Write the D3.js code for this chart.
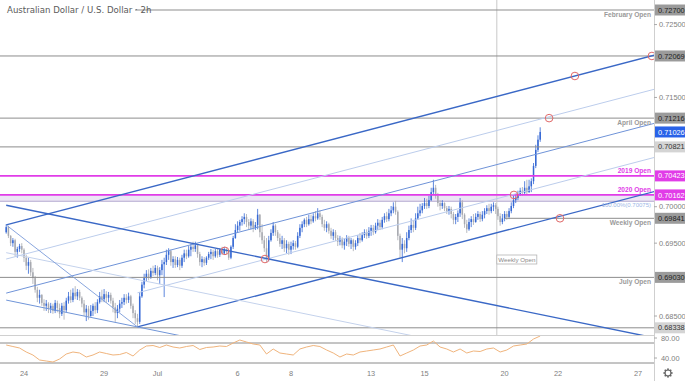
<!DOCTYPE html>
<html>
<head>
<meta charset="utf-8">
<script src="https://cdn.jsdelivr.net/npm/d3@7"></script>
<style>
  body { margin: 0; background: #fff; }
  svg { display: block; font-family: "Liberation Sans", Arial, sans-serif; }
</style>
</head>
<body>
<svg id="chart" width="685" height="381"></svg>
<script>
// ---- data (2h bars, AUD/USD, 23 Jun - 21 Jul) ----
const title = "Australian Dollar / U.S. Dollar · 2h"
const firstOpen = 0.6965

const highs = [
  .6976,.6974,.6961,.6957,.6956,.6945,.6949,.6950,
  .6943,.6934,.6930,.6927,.6916,.6905,.6890,.6886,.6880,.6873,.6872,.6869,
  .6868,.6867,.6872,.6871,.6867,.6868,.6869,.6875,.6883,.6886,.6888,.6891,
  .6887,.6886,.6877,.6872,.6865,.6864,.6865,.6867,.6869,.6873,.6883,.6886,
  .6887,.6884,.6883,.6882,.6875,.6868,.6865,.6872,.6875,.6880,.6880,.6882,
  .6879,.6867,.6858,.6853,.6883,.6897,.6908,.6913,.6914,.6916,.6919,.6920,
  .6919,.6917,.6927,.6930,.6941,.6943,.6941,.6932,.6932,.6931,.6930,.6934,
  .6941,.6941,.6946,.6949,.6952,.6952,.6949,.6938,.6932,.6931,.6932,.6938,
  .6942,.6941,.6942,.6943,.6943,.6945,.6945,.6943,.6941,.6947,.6960,.6976,
  .6980,.6982,.6987,.6991,.6990,.6983,.6984,.6983,.6979,.6997,.6990,.6976,
  .6960,.6957,.6960,.6969,.6979,.6976,.6968,.6963,.6960,.6957,.6954,.6952,
  .6952,.6954,.6953,.6965,.6976,.6980,.6984,.6986,.6989,.6989,.6991,.6994,
  .6998,.6995,.6989,.6982,.6980,.6978,.6971,.6969,.6968,.6961,.6960,.6958,
  .6956,.6961,.6960,.6957,.6956,.6954,.6961,.6964,.6965,.6969,.6969,.6972,
  .6975,.6975,.6978,.6983,.6982,.6986,.6991,.6993,.6997,.7001,.7006,.7008,
  .6995,.6963,.6957,.6954,.6965,.6974,.6984,.6982,.6991,.7000,.7004,.7005,
  .7012,.7011,.7015,.7026,.7037,.7030,.7019,.7009,.7009,.7006,.7001,.7001,
  .7000,.6993,.6990,.6995,.7012,.7009,.6991,.6982,.6984,.6987,.6990,.6991,
  .6994,.6993,.6994,.6998,.7002,.7004,.7004,.7006,.7005,.7000,.6991,.6990,
  .6994,.6994,.6998,.7006,.7015,.7017,.7022,.7026,.7027,.7035,.7037,.7037,
  .7039,.7060,.7085,.7098,.7109
]
const lows = [
  .6963,.6957,.6946,.6945,.6932,.6930,.6938,.6936,
  .6924,.6913,.6908,.6905,.6894,.6882,.6869,.6867,.6864,.6857,.6857,.6854,
  .6854,.6853,.6854,.6855,.6847,.6850,.6845,.6855,.6867,.6868,.6869,.6873,
  .6872,.6871,.6862,.6850,.6843,.6845,.6849,.6850,.6853,.6854,.6867,.6869,
  .6869,.6868,.6869,.6867,.6855,.6842,.6847,.6855,.6861,.6865,.6867,.6868,
  .6860,.6847,.6839,.6835,.6839,.6875,.6888,.6898,.6899,.6901,.6905,.6906,
  .6899,.6894,.6906,.6876,.6920,.6927,.6919,.6916,.6916,.6917,.6913,.6916,
  .6924,.6928,.6930,.6932,.6938,.6938,.6930,.6919,.6917,.6919,.6920,.6927,
  .6928,.6927,.6930,.6930,.6931,.6934,.6934,.6935,.6927,.6928,.6942,.6956,
  .6964,.6967,.6974,.6976,.6972,.6969,.6969,.6965,.6968,.6969,.6958,.6949,
  .6938,.6924,.6925,.6952,.6960,.6960,.6953,.6945,.6942,.6938,.6936,.6934,
  .6935,.6941,.6941,.6943,.6957,.6965,.6972,.6972,.6974,.6976,.6978,.6980,
  .6982,.6982,.6972,.6967,.6965,.6963,.6956,.6954,.6953,.6946,.6947,.6943,
  .6941,.6946,.6945,.6942,.6939,.6941,.6946,.6950,.6952,.6957,.6956,.6957,
  .6960,.6961,.6963,.6968,.6968,.6969,.6978,.6979,.6980,.6987,.6991,.6989,
  .6954,.6930,.6924,.6936,.6938,.6954,.6964,.6965,.6968,.6982,.6987,.6991,
  .6997,.6997,.6998,.7008,.7016,.7011,.7000,.6995,.6997,.6994,.6990,.6989,
  .6984,.6976,.6976,.6979,.6986,.6983,.6971,.6964,.6967,.6972,.6975,.6978,
  .6982,.6979,.6980,.6984,.6990,.6989,.6991,.6994,.6990,.6982,.6974,.6976,
  .6980,.6982,.6983,.6991,.6998,.7005,.7009,.7015,.7015,.7017,.7016,.7019,
  .7020,.7031,.7053,.7075,.7089
]
const closes = [
  .6972,.6960,.6950,.6954,.6938,.6942,.6946,.6941,
  .6930,.6919,.6924,.6910,.6902,.6886,.6875,.6879,.6868,.6864,.6867,.6860,
  .6864,.6857,.6868,.6861,.6853,.6864,.6858,.6871,.6877,.6872,.6882,.6877,
  .6883,.6875,.6867,.6855,.6860,.6850,.6857,.6864,.6858,.6869,.6877,.6873,
  .6880,.6875,.6879,.6871,.6862,.6854,.6860,.6867,.6869,.6875,.6872,.6877,
  .6864,.6854,.6847,.6842,.6877,.6893,.6902,.6908,.6903,.6912,.6909,.6916,
  .6906,.6913,.6921,.6924,.6934,.6939,.6924,.6928,.6920,.6927,.6919,.6930,
  .6936,.6932,.6941,.6945,.6942,.6947,.6935,.6924,.6928,.6923,.6930,.6935,
  .6938,.6932,.6939,.6934,.6941,.6936,.6942,.6938,.6930,.6945,.6957,.6968,
  .6974,.6979,.6983,.6986,.6979,.6974,.6980,.6971,.6975,.6989,.6965,.6954,
  .6943,.6928,.6954,.6964,.6974,.6965,.6957,.6949,.6954,.6943,.6949,.6941,
  .6946,.6950,.6945,.6960,.6971,.6976,.6982,.6976,.6983,.6980,.6987,.6984,
  .6991,.6986,.6976,.6971,.6976,.6967,.6960,.6965,.6957,.6952,.6956,.6947,
  .6952,.6957,.6949,.6954,.6945,.6950,.6957,.6954,.6961,.6965,.6960,.6967,
  .6971,.6965,.6974,.6978,.6972,.6982,.6987,.6983,.6991,.6995,.7000,.6993,
  .6960,.6941,.6949,.6943,.6957,.6968,.6975,.6971,.6984,.6991,.6995,.7001,
  .7005,.7001,.7009,.7020,.7026,.7015,.7005,.7001,.7005,.6998,.6994,.6997,
  .6990,.6982,.6986,.6991,.7006,.6989,.6976,.6969,.6979,.6983,.6979,.6986,
  .6990,.6983,.6989,.6994,.6998,.6994,.7000,.7002,.6997,.6987,.6979,.6984,
  .6990,.6986,.6994,.7001,.7009,.7012,.7017,.7022,.7019,.7026,.7020,.7028,
  .7035,.7056,.7078,.7092,.71026
]

// RSI, one reading every 3 bars
const rsiStep = 3
const rsi = [
  66,63,60,52,46,36,34,32,38,48,
  52,50,42,46,52,49,46,47,51,44,
  56,64,65,61,66,62,60,63,65,57,
  61,62,64,63,70,76,72,68,66,48,
  58,50,48,46,58,62,65,63,56,50,
  42,48,46,52,54,56,58,62,66,44,
  50,56,64,66,74,62,58,52,58,50,
  54,53,58,60,52,56,64,66,68,78,
  84
]
const rsiBands = [70, 30]
const rsiTicks = [80, 40]

const dateBars = [8, 44, 68, 104, 128, 164, 188, 224, 248, 284]
const dateLabels = ["24", "29", "Jul", "6", "8", "13", "15", "20", "22", "27"]
const priceTicks = [0.725, 0.720, 0.715, 0.710, 0.705, 0.700, 0.695, 0.690, 0.685]

const levelPrices = [0.72700, 0.72069, 0.71216, 0.70821, 0.70423, 0.70162, 0.69841, 0.69030, 0.68338]
const levelNames = ["February Open", "", "April Open", "", "2019 Open", "2020 Open", "Weekly Open", "July Open", ""]
const fibPrice = 0.70075
const fibLabel = "100.00%(0.70075)"
const weeklyOpenBar = 224
const weeklyMarkBar = 220.5

// trendlines as [bar, price] anchors
const riseTop = [[0, 0.6975], [290, 0.7207]]
const riseLowPivot = [59, 0.6835]
const riseFractions = [0.25, 0.5, 0.75]
const fallTop = [[0, 0.7002], [285, 0.6824]]
const fallFromHigh = [[0, 0.6975], [59, 0.6835]]
const markers = [[290.2, 0.72069], [255.6, 0.71794], [244, 0.71216], [228.2, 0.70162],
                 [248.9, 0.69841], [98.3, 0.69394], [116.3, 0.69282]]

// ---- drawing ----
const svg = d3.select("#chart")
const axisX = 654
const mainBottom = 335

const x = d3.scaleLinear().domain([0, 240]).range([6.2, 540.2])
const y = d3.scaleLinear().domain([0.727, 0.685]).range([10, 316])
const yr = d3.scaleLinear().domain([80, 40]).range([338, 358])

const defs = svg.append("defs")
defs.append("clipPath").attr("id", "mainClip")
  .append("rect").attr("x", 0).attr("y", 0).attr("width", axisX).attr("height", mainBottom)
defs.append("clipPath").attr("id", "rsiClip")
  .append("rect").attr("x", 0).attr("y", mainBottom + 1).attr("width", axisX).attr("height", 31)

const main = svg.append("g").attr("clip-path", "url(#mainClip)")

// fib band between 2020 open and 100% level
main.append("rect")
  .attr("x", 0).attr("width", axisX)
  .attr("y", y(levelPrices[5])).attr("height", y(fibPrice) - y(levelPrices[5]))
  .attr("fill", "#ece6f5")
main.append("line")
  .attr("x1", 0).attr("x2", axisX).attr("y1", y(fibPrice)).attr("y2", y(fibPrice))
  .attr("stroke", "#b4a9cf").attr("stroke-width", 1)

// weekly open vertical marker
main.append("line")
  .attr("x1", x(weeklyMarkBar)).attr("x2", x(weeklyMarkBar))
  .attr("y1", 0).attr("y2", mainBottom)
  .attr("stroke", "#c8c8c8").attr("stroke-width", 1)

// candles
const bars = closes.map((c, i) => ({
  i: i,
  o: i == 0 ? firstOpen : closes[i - 1],
  h: highs[i], l: lows[i], c: c
}))
const up = "#3568d4", down = "#a7a9b0"
const cg = main.append("g")
cg.selectAll("line").data(bars).join("line")
  .attr("x1", d => x(d.i)).attr("x2", d => x(d.i))
  .attr("y1", d => y(d.h)).attr("y2", d => y(d.l))
  .attr("stroke", d => d.c >= d.o ? up : down).attr("stroke-width", 0.8)
cg.selectAll("rect").data(bars).join("rect")
  .attr("x", d => x(d.i) - 0.75).attr("width", 1.5)
  .attr("y", d => y(Math.max(d.o, d.c)))
  .attr("height", d => Math.max(0.8, Math.abs(y(d.o) - y(d.c))))
  .attr("fill", d => d.c >= d.o ? up : down)

// horizontal levels
const magenta = "#e13ce8"
levelPrices.forEach((p, k) => {
  const name = levelNames[k]
  const isMag = name.startsWith("20")
  const from = name == "Weekly Open" ? x(weeklyOpenBar) : 0
  main.append("line")
    .attr("x1", from).attr("x2", axisX).attr("y1", y(p)).attr("y2", y(p))
    .attr("stroke", isMag ? magenta : "#8d8d8d")
    .attr("stroke-width", isMag ? 1.6 : 1)
  if (name) {
    svg.append("text")
      .attr("x", axisX - 3)
      .attr("y", isMag ? y(p) - 3 : y(p) + 7)
      .attr("text-anchor", "end")
      .attr("font-size", 6.6).attr("font-weight", "bold")
      .attr("fill", isMag ? magenta : "#9a9a9a")
      .text(name)
  }
})
svg.append("text")
  .attr("x", axisX - 3).attr("y", y(fibPrice) + 6)
  .attr("text-anchor", "end").attr("font-size", 6)
  .attr("fill", "#9bb6e6").text(fibLabel)

// rising channel
const slope = (riseTop[1][1] - riseTop[0][1]) / (riseTop[1][0] - riseTop[0][0])
const topAt = b => riseTop[0][1] + slope * (b - riseTop[0][0])
const gap = topAt(riseLowPivot[0]) - riseLowPivot[1]
const endBar = 292
function seg(b0, p0, b1, p1, color, w) {
  main.append("line")
    .attr("x1", x(b0)).attr("y1", y(p0)).attr("x2", x(b1)).attr("y2", y(p1))
    .attr("stroke", color).attr("stroke-width", w)
}
seg(0, topAt(0), endBar, topAt(endBar), "#3a68c6", 1.4)
riseFractions.forEach(f => {
  const b0 = f == 0.75 ? riseLowPivot[0] : 0
  seg(b0, topAt(b0) - f * gap, endBar, topAt(endBar) - f * gap,
      f == 0.5 ? "#6f93d8" : "#bccdec", 1)
})
seg(riseLowPivot[0], riseLowPivot[1], endBar, topAt(endBar) - gap, "#3a68c6", 1.4)

// falling channel
const fSlope = (fallTop[1][1] - fallTop[0][1]) / (fallTop[1][0] - fallTop[0][0])
const fTopAt = b => fallTop[0][1] + fSlope * (b - fallTop[0][0])
const fGap = fTopAt(riseLowPivot[0]) - riseLowPivot[1]
seg(0, fTopAt(0), endBar, fTopAt(endBar), "#3a68c6", 1.4)
seg(0, fTopAt(0) - fGap / 2, endBar, fTopAt(endBar) - fGap / 2, "#c4d2ec", 1)
seg(0, fTopAt(0) - fGap, endBar, fTopAt(endBar) - fGap, "#7095d8", 1)
seg(fallFromHigh[0][0], fallFromHigh[0][1], fallFromHigh[1][0], fallFromHigh[1][1], "#7a9bd9", 0.9)

// markers
main.selectAll("circle.mk").data(markers).join("circle")
  .attr("cx", d => x(d[0])).attr("cy", d => y(d[1])).attr("r", 3.8)
  .attr("fill", "none").attr("stroke", "#e06868").attr("stroke-width", 1)

// weekly open tag near bottom of the vertical marker
const tag = svg.append("g")
tag.append("rect").attr("x", x(weeklyMarkBar)).attr("y", 255).attr("width", 40).attr("height", 9)
  .attr("fill", "#fff").attr("stroke", "#b5b5b5").attr("stroke-width", 0.8)
tag.append("text").attr("x", x(weeklyMarkBar) + 20).attr("y", 262)
  .attr("text-anchor", "middle").attr("font-size", 6.2).attr("fill", "#888").text("Weekly Open")

// panel separator
svg.append("line").attr("x1", 0).attr("x2", axisX).attr("y1", mainBottom + 0.5).attr("y2", mainBottom + 0.5)
  .attr("stroke", "#d0d0d0")

// RSI panel
const rsiG = svg.append("g").attr("clip-path", "url(#rsiClip)")
rsiBands.forEach(v => {
  rsiG.append("line").attr("x1", 0).attr("x2", axisX).attr("y1", yr(v)).attr("y2", yr(v))
    .attr("stroke", "#8a8a8a").attr("stroke-width", 1)
})
rsiG.append("path")
  .datum(rsi)
  .attr("d", d3.line().x((d, k) => x(k * rsiStep)).y(d => yr(d)))
  .attr("fill", "none").attr("stroke", "#f0b47c").attr("stroke-width", 1)

// title
svg.append("rect").attr("x", 0).attr("y", 3).attr("width", 135).attr("height", 13).attr("fill", "#fff")
svg.append("text").attr("x", 7).attr("y", 13)
  .attr("font-family", "DejaVu Sans, Verdana, sans-serif")
  .attr("font-size", 8.6).attr("fill", "#5a5a5a").text(title)

// right axis
svg.append("line").attr("x1", axisX + 0.5).attr("x2", axisX + 0.5).attr("y1", 0).attr("y2", 381)
  .attr("stroke", "#cfcfcf")
const ax = svg.append("g")
const boxPrices = levelPrices.concat([closes[closes.length - 1]])
priceTicks
  .filter(p => boxPrices.every(b => Math.abs(y(b) - y(p)) > 7.5))
  .forEach(p => {
    ax.append("line").attr("x1", axisX).attr("x2", axisX + 3).attr("y1", y(p)).attr("y2", y(p)).attr("stroke", "#aaa")
    ax.append("text").attr("x", axisX + 5).attr("y", y(p) + 2.6)
      .attr("font-size", 7.4).attr("fill", "#808080").text(p.toFixed(5))
  })
rsiTicks.forEach(v => {
  ax.append("line").attr("x1", axisX).attr("x2", axisX + 3).attr("y1", yr(v)).attr("y2", yr(v)).attr("stroke", "#aaa")
  ax.append("text").attr("x", axisX + 7).attr("y", yr(v) + 2.6)
    .attr("font-size", 7.4).attr("fill", "#808080").text(v.toFixed(2))
})

function tagBox(p, fill, color) {
  ax.append("rect").attr("x", axisX + 1).attr("y", y(p) - 5.5).attr("width", 685 - axisX - 1).attr("height", 11)
    .attr("fill", fill)
  ax.append("text").attr("x", axisX + 4).attr("y", y(p) + 2.6)
    .attr("font-size", 7.4).attr("fill", color).text(p.toFixed(5))
}
levelPrices.forEach((p, k) => {
  const name = levelNames[k]
  if (name.startsWith("20")) tagBox(p, magenta, "#fff")
  else if (k == 3 || k == 8) tagBox(p, "#d4d4d4", "#333")
  else tagBox(p, "#9b9b9b", "#1e1e1e")
})
tagBox(closes[closes.length - 1], "#2962e8", "#fff")

// date axis
dateBars.forEach((b, k) => {
  svg.append("text").attr("x", x(b)).attr("y", 376)
    .attr("text-anchor", "middle").attr("font-size", 7.4).attr("fill", "#808080").text(dateLabels[k])
})

// settings gear
const gear = svg.append("g").attr("transform", "translate(668,373)")
d3.range(8).forEach(k => {
  gear.append("rect").attr("x", -0.8).attr("y", -4.6).attr("width", 1.6).attr("height", 2)
    .attr("fill", "#666").attr("transform", `rotate(${k * 45})`)
})
gear.append("circle").attr("r", 3).attr("fill", "none").attr("stroke", "#666").attr("stroke-width", 1.1)
</script>
</body>
</html>
